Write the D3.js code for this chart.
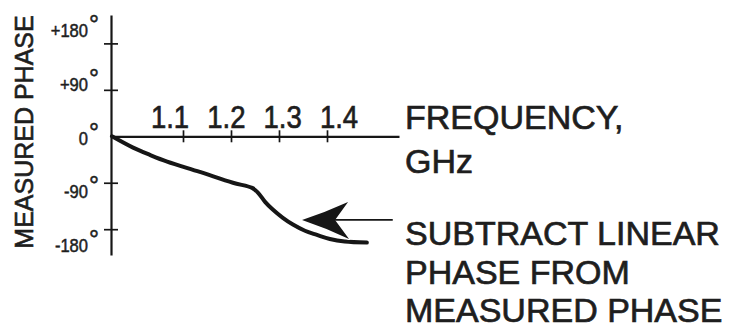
<!DOCTYPE html>
<html>
<head>
<meta charset="utf-8">
<script src="https://cdn.jsdelivr.net/npm/d3@7"></script>
<style>
  html, body { margin: 0; padding: 0; background: #fff; }
  text { font-family: "Liberation Sans", Arial, sans-serif; fill: #1e1e1e; stroke: #1e1e1e; }
</style>
</head>
<body>
<svg id="chart" width="733" height="328"></svg>
<script>
// Frequency axis (GHz)
const freqTicks = [1.1, 1.2, 1.3, 1.4];
const freqTickLabels = ["1.1", "1.2", "1.3", "1.4"];

// Phase axis (degrees)
const phaseTicks = [-180, -90, 90, 180];
const phaseLabelValues = [180, 90, 0, -90, -180];
const phaseLabelText = ["+180", "+90", "0", "-90", "-180"];

// Measured phase curve
const curveFreq  = [0.952, 0.996, 1.031, 1.067, 1.135, 1.204, 1.244, 1.256, 1.271, 1.287, 1.308, 1.329, 1.354, 1.379, 1.406, 1.437, 1.483];
const curvePhase = [0, -22, -36, -49, -69, -90, -100, -109, -127, -142, -158, -171, -183, -191, -199, -204, -206];

// Annotation arrow: tip and tail frequency, at one phase level
const arrowFreq = [1.348, 1.537];
const arrowPhase = -162;

// Annotation text
const axisTitle = "MEASURED PHASE";
const freqTitle = ["FREQUENCY,", "GHz"];
const noteLines = ["SUBTRACT LINEAR", "PHASE FROM", "MEASURED PHASE"];

const svg = d3.select("#chart");
const ink = "#161616";

const x = d3.scaleLinear().domain([0.95, 1.55]).range([111, 399]);
const y = d3.scaleLinear().domain([-230, 235]).range([255, 15]);

// tick label placement scales
const xLabel = d3.scaleLinear().domain([1.1, 1.4]).range([170, 339]);
const yLabel = d3.scaleLinear().domain([-180, 180]).range([252, 37]);

// vertical phase axis
const yAxis = d3.axisLeft(y).tickValues(phaseTicks).tickFormat("").tickSizeInner(7).tickSizeOuter(0);
const gy = svg.append("g").attr("transform", `translate(${x(0.95)},0)`).call(yAxis);
gy.select(".domain").attr("stroke", ink).attr("stroke-width", 2.2);
gy.selectAll(".tick line").attr("x1", -7).attr("x2", 7).attr("stroke", ink).attr("stroke-width", 1.7);

// horizontal frequency axis
const xAxis = d3.axisBottom(x).tickValues(freqTicks).tickFormat("").tickSizeInner(6).tickSizeOuter(0);
const gx = svg.append("g").attr("transform", `translate(0,${y(0)})`).call(xAxis);
gx.select(".domain").attr("stroke", ink).attr("stroke-width", 2.2);
gx.selectAll(".tick line").attr("y1", -6).attr("y2", 6).attr("stroke", ink).attr("stroke-width", 1.7);

// frequency tick labels (narrow, tall digits)
svg.append("g").selectAll("text").data(freqTicks).join("text")
  .attr("transform", d => `translate(${xLabel(d)},128) scale(0.86,1)`)
  .attr("text-anchor", "middle").attr("font-size", 32).attr("stroke-width", 0.7)
  .text((d, i) => freqTickLabels[i]);

// phase tick labels with raised degree sign
const pl = svg.append("g").selectAll("g").data(phaseLabelValues).join("g");
pl.append("text")
  .attr("transform", d => `translate(88,${yLabel(d)}) scale(0.92,1)`)
  .attr("text-anchor", "end").attr("font-size", 18).attr("stroke-width", 0.5)
  .text((d, i) => phaseLabelText[i]);
pl.append("text")
  .attr("x", 89).attr("y", d => yLabel(d) - 4)
  .attr("font-size", 25).attr("stroke-width", 0.5)
  .text("\u00B0");

// vertical axis title
svg.append("text")
  .attr("transform", "translate(33,132) rotate(-90)")
  .attr("text-anchor", "middle").attr("font-size", 25).attr("stroke-width", 0.6)
  .text(axisTitle);

// measured phase curve
const pts = curveFreq.map((f, i) => [x(f), y(curvePhase[i])]);
svg.append("path")
  .attr("d", d3.line().curve(d3.curveCatmullRom.alpha(0.5))(pts))
  .attr("fill", "none").attr("stroke", ink)
  .attr("stroke-width", 4).attr("stroke-linecap", "round").attr("stroke-linejoin", "round");

// arrow pointing at the curve
const tx = x(arrowFreq[0]), ty = y(arrowPhase);
const head = d3.path();
head.moveTo(tx, ty);
head.quadraticCurveTo(tx + 24, ty - 8, tx + 46, ty - 18);
head.lineTo(tx + 33, ty);
head.lineTo(tx + 47, ty + 19);
head.quadraticCurveTo(tx + 24, ty + 8, tx, ty);
head.closePath();
svg.append("path")
  .attr("d", head.toString())
  .attr("fill", ink).attr("stroke", "#fff").attr("stroke-width", 2.4)
  .attr("paint-order", "stroke").attr("stroke-linejoin", "round");
svg.append("line")
  .attr("x1", tx + 33).attr("x2", x(arrowFreq[1]))
  .attr("y1", ty).attr("y2", ty)
  .attr("stroke", ink).attr("stroke-width", 1.8);

// right-hand annotations
svg.append("g").selectAll("text").data(freqTitle).join("text")
  .attr("x", 405).attr("y", (d, i) => 129 + i * 44)
  .attr("font-size", 34).attr("stroke-width", 0.7).text(d => d);
svg.append("g").selectAll("text").data(noteLines).join("text")
  .attr("x", 405).attr("y", (d, i) => 245 + i * 38.5)
  .attr("font-size", 34).attr("stroke-width", 0.7).text(d => d);
</script>
</body>
</html>
